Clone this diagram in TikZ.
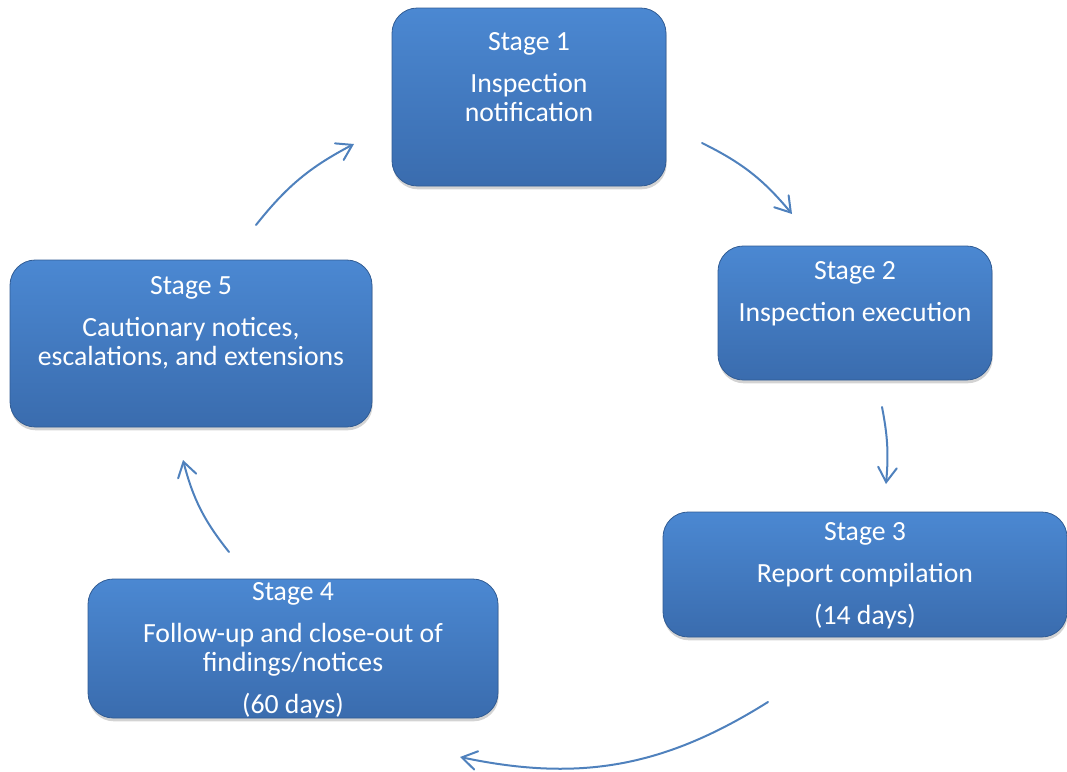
\documentclass[tikz,border=0pt]{standalone}
\usepackage{fontspec}
\setmainfont{Carlito}
\usepackage{tikz}
\usetikzlibrary{arrows.meta,shadows,calc}
\definecolor{boxtop}{HTML}{4B88D2}
\definecolor{boxbot}{HTML}{3A6CAE}
\definecolor{arrowblue}{HTML}{4F81BD}

\begin{document}
\begin{tikzpicture}[x=0.75pt,y=-0.75pt]
  \useasboundingbox (0,0) rectangle (1067,771);
  \tikzstyle{stagebox}=[rounded corners=19pt, top color=boxtop, bottom color=boxbot,
    draw=boxbot!85!black, line width=0.6pt,
    drop shadow={shadow xshift=0.5pt, shadow yshift=-2.5pt, opacity=0.35}]
  \tikzstyle{stagetext}=[text=white, align=center, inner sep=0pt,
    font=\fontsize{20.8}{21.75}\selectfont]

  % Boxes of the cycle
  \node[stagebox, minimum width=205.5pt, minimum height=133.5pt] (Box1) at (529,97) {};
  \node[stagebox, minimum width=205.5pt, minimum height=100.5pt] (Box2) at (855,313) {};
  \node[stagebox, minimum width=303pt, minimum height=93.75pt] (Box3) at (865,574.5) {};
  \node[stagebox, minimum width=307.5pt, minimum height=104.25pt] (Box4) at (293,648.5) {};
  \node[stagebox, minimum width=271.5pt, minimum height=125.25pt] (Box5) at (191,343.5) {};

  % Texts
  \node[stagetext] (Stage1) at ($(Box1.center)+(0,-20)$) {Stage 1\\[9.75pt]Inspection\\notification};
  \node[stagetext] (Stage2) at ($(Box2.center)+(0,-19.5)$) {Stage 2\\[9.75pt]Inspection execution};
  \node[stagetext] (Stage3) at ($(Box3.center)+(0,1.5)$) {Stage 3\\[9.75pt]Report compilation\\[9.75pt](14 days)};
  \node[stagetext] (Stage4) at ($(Box4.center)+(0,1.5)$) {Stage 4\\[9.75pt]Follow-up and close-out of\\findings/notices\\[9.75pt](60 days)};
  \node[stagetext] (Stage5) at ($(Box5.center)+(0,-20.5)$) {Stage 5\\[9.75pt]Cautionary notices,\\escalations, and extensions};

  % Arrow ends
  \coordinate (A1s) at (702,143);  \coordinate (A1e) at (792,214);
  \coordinate (A2s) at (882,407);  \coordinate (A2e) at (886,484);
  \coordinate (A3s) at (768,702);  \coordinate (A3e) at (460,757);
  \coordinate (A4s) at (229,552);  \coordinate (A4e) at (183,460);
  \coordinate (A5s) at (256,225);  \coordinate (A5e) at (354,144);

  \begin{scope}[arrowblue, line width=1.5pt, line cap=round,
      -{Straight Barb[length=11pt,width=14pt,line cap=round]}]
    \draw (A1s) to[bend left=12] (A1e);
    \draw (A2s) to[bend left=8] (A2e);
    \draw (A3s) to[bend left=22] (A3e);
    \draw (A4s) to[bend left=12] (A4e);
    \draw (A5s) to[bend left=12] (A5e);
  \end{scope}
\end{tikzpicture}
\end{document}
